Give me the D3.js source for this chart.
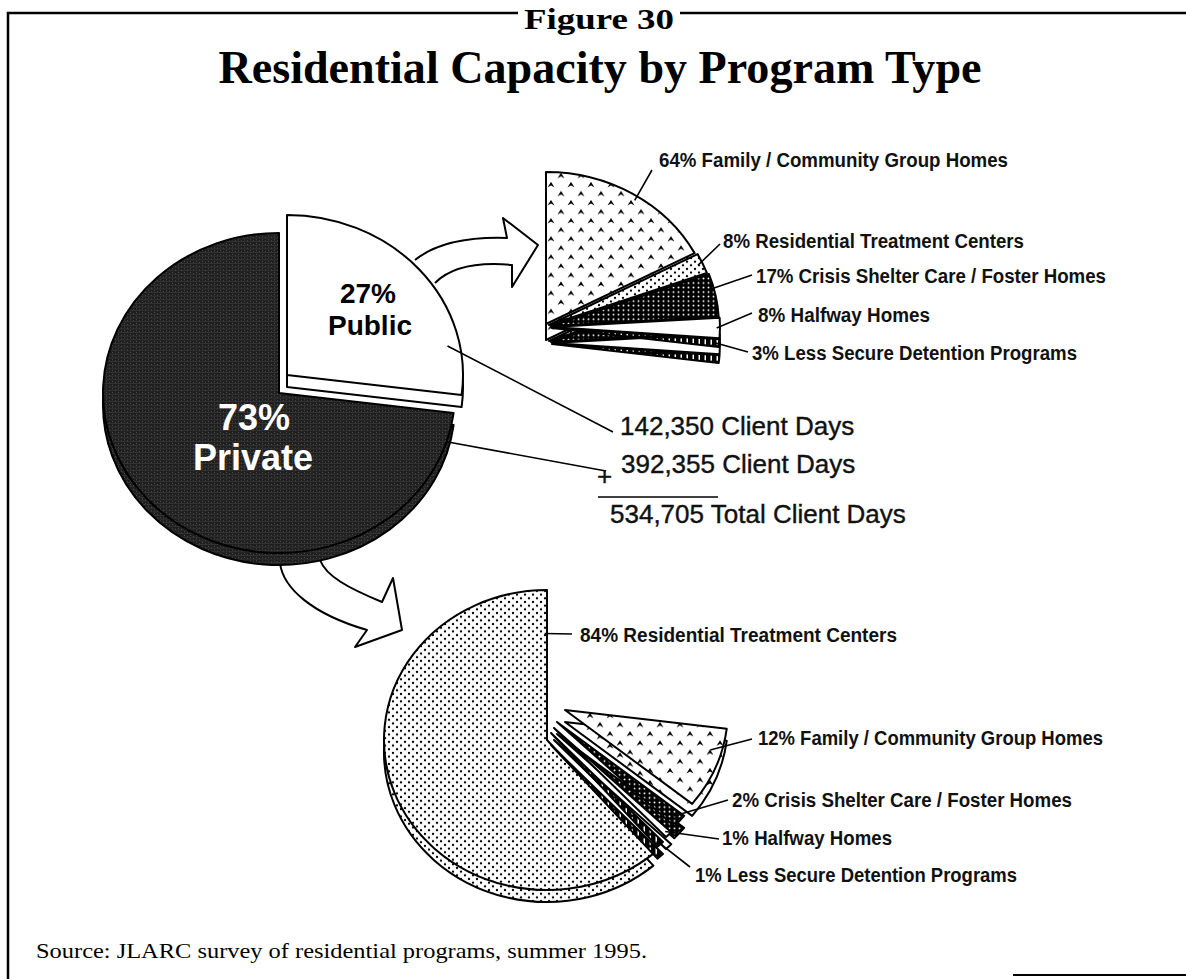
<!DOCTYPE html>
<html lang="en">
<head>
<meta charset="UTF-8">
<title>Residential Capacity by Program Type</title>
<style>
    body { margin: 0; background: #fff; }
    .serif { font-family: "Liberation Serif", "Times New Roman", serif; }
    .sans { font-family: "Liberation Sans", Arial, sans-serif; }
    .label { font-size: 20px; fill: #111; font-weight: bold; }
    .leader { stroke: #000; stroke-width: 1.6px; fill: none; }
    .edge { stroke: #000; stroke-width: 2px; vector-effect: non-scaling-stroke; stroke-linejoin: round; }
    .frame { stroke: #000; fill: none; }
</style>
<script src="https://d3js.org/d3.v7.min.js"></script>
</head>
<body>
<svg id="chart"></svg>
<script>

    // ---- data ----
    const sectors = ["Public", "Private"];
    const sectorShare = [27, 73];
    const clientDays = [142350, 392355];

    const publicPrograms = ["Family / Community Group Homes", "Residential Treatment Centers",
        "Crisis Shelter Care / Foster Homes", "Halfway Homes", "Less Secure Detention Programs"];
    const publicShare = [64, 8, 17, 8, 3];

    const privatePrograms = ["Family / Community Group Homes", "Crisis Shelter Care / Foster Homes",
        "Halfway Homes", "Less Secure Detention Programs", "Residential Treatment Centers"];
    const privateShare = [12, 2, 1, 1, 84];

    // ---- layout ----
    const width = 1186, height = 979;
    const mainPie = {cx: 279, cy: 393, rx: 176, ry: 160, depth: 12};
    const topPie = {cx: 546, cy: 327, rx: 168, ry: 152, depth: 16};
    const botPie = {cx: 547, cy: 740, rx: 163, ry: 150, depth: 12};

    const mainOffset = [[8, -18], [0, 0]];
    const topOffset = [[0, -3], [3, -2], [5, -1], [6, 0], [6, 1]];
    const botOffset = [[18, -30], [10, -18], [7, -12], [4, -7], [0, 0]];

    // label anchor [x, baseline, width], leader end shift, anchor inside slice [t, f]
    const topLabelPos = [[659, 167, 349], [723, 248, 301], [756, 283, 350], [758, 322, 172], [752, 360, 325]];
    const topLeadEnd = [[-7, 3], [-3, -4], [-4, -8], [-6, -9], [-4, -8]];
    const topAnchor = [[0.53, 0.97], [0.5, 0.97], [0.35, 0.97], [0.5, 0.98], [0.5, 0.98]];

    const botLabelPos = [[758, 745, 345], [732, 807, 340], [722, 845, 170], [695, 882, 322], [580, 642, 317]];
    const botLeadEnd = [[-6, -6], [-4, -7], [-3, -6], [-5, -15], [-8, -8]];
    const botAnchor = [[0.3, 0.93], [0.5, 0.95], [0.5, 0.97], [0.5, 0.97], [0.995, 0.71]];

    const programFill = {
        "Family / Community Group Homes": "url(#patFamily)",
        "Residential Treatment Centers": "url(#patDots)",
        "Crisis Shelter Care / Foster Homes": "url(#patCrisis)",
        "Halfway Homes": "#fff",
        "Less Secure Detention Programs": "url(#patStripes)"
    };
    const sectorFill = ["#fff", "url(#patPrivate)"];

    const svg = d3.select("#chart").attr("width", width).attr("height", height);
    const defs = svg.append("defs");

    // hatch patterns like the photocopied original
    const pFam = defs.append("pattern").attr("id", "patFamily").attr("patternUnits", "userSpaceOnUse")
        .attr("width", 20).attr("height", 20);
    pFam.append("rect").attr("width", 20).attr("height", 20).attr("fill", "#fff");
    pFam.append("path").attr("d", "M1.5,9 L5,3 L8.5,9 L5,6.8 Z M11.5,19 L15,13 L18.5,19 L15,16.8 Z").attr("fill", "#000");

    const pDots = defs.append("pattern").attr("id", "patDots").attr("patternUnits", "userSpaceOnUse")
        .attr("width", 8).attr("height", 8);
    pDots.append("rect").attr("width", 8).attr("height", 8).attr("fill", "#fff");
    pDots.append("circle").attr("cx", 2).attr("cy", 2).attr("r", 1.2).attr("fill", "#000");
    pDots.append("circle").attr("cx", 6).attr("cy", 6).attr("r", 1.2).attr("fill", "#000");

    const pCrisis = defs.append("pattern").attr("id", "patCrisis").attr("patternUnits", "userSpaceOnUse")
        .attr("width", 5).attr("height", 5);
    pCrisis.append("rect").attr("width", 5).attr("height", 5).attr("fill", "#000");
    pCrisis.append("circle").attr("cx", 2.5).attr("cy", 2.5).attr("r", 1).attr("fill", "#fff");

    const pStripes = defs.append("pattern").attr("id", "patStripes").attr("patternUnits", "userSpaceOnUse")
        .attr("width", 6).attr("height", 10);
    pStripes.append("rect").attr("width", 6).attr("height", 10).attr("fill", "#000");
    pStripes.append("rect").attr("x", 2.5).attr("y", 1.5).attr("width", 1.5).attr("height", 7).attr("fill", "#fff");

    const pPriv = defs.append("pattern").attr("id", "patPrivate").attr("patternUnits", "userSpaceOnUse")
        .attr("width", 6).attr("height", 4);
    pPriv.append("rect").attr("width", 6).attr("height", 4).attr("fill", "#1e1e1e");
    pPriv.append("rect").attr("y", 1).attr("width", 6).attr("height", 1).attr("fill", "#343434");
    pPriv.append("rect").attr("x", 1).attr("y", 3).attr("width", 1).attr("height", 1).attr("fill", "#555");
    pPriv.append("rect").attr("x", 4).attr("y", 0).attr("width", 1).attr("height", 1).attr("fill", "#4a4a4a");

    // ---- frame and titles ----
    svg.append("path").attr("class", "frame").attr("stroke-width", 2.5)
        .attr("d", `M8,${height} V13 H518 M680,13 H${width}`);
    svg.append("path").attr("class", "frame").attr("stroke-width", 2)
        .attr("d", `M1013,975 H${width}`);

    svg.append("text").attr("class", "serif").attr("x", 599).attr("y", 29)
        .attr("text-anchor", "middle").attr("font-size", 30).attr("font-weight", "bold")
        .attr("textLength", 150).attr("lengthAdjust", "spacingAndGlyphs")
        .text("Figure 30");
    svg.append("text").attr("class", "serif").attr("x", 600).attr("y", 83)
        .attr("text-anchor", "middle").attr("font-size", 46).attr("font-weight", "bold")
        .attr("textLength", 763).attr("lengthAdjust", "spacingAndGlyphs")
        .text("Residential Capacity by Program Type");
    svg.append("text").attr("class", "serif").attr("x", 36).attr("y", 958)
        .attr("font-size", 21).attr("textLength", 611).attr("lengthAdjust", "spacingAndGlyphs")
        .text("Source:  JLARC survey of residential programs, summer 1995.");

    // ---- arrows (drawn first so pie rims sit on top of their bases) ----
    svg.append("path").attr("class", "edge").attr("fill", "#fff")
        .attr("d", "M415,260 Q445,236 507,238 L503,218 L538,245 L512,287 L512,265 Q458,260 435,283");
    svg.append("path").attr("class", "edge").attr("fill", "#fff")
        .attr("d", "M280,563 C283,588 312,614 367,630 L355,647 L402,630 L393,578 L382,602 C348,588 326,576 320,560");

    // ---- 3D pie helper ----
    function drawPie(spec, shares, fills, offsets, a0, a1, order) {
        const pie = d3.pie().sort(null).value(d => d).startAngle(a0).endAngle(a1);
        const arcs = pie(shares);
        const arc = d3.arc().innerRadius(0).outerRadius(spec.rx);
        const tilt = spec.ry / spec.rx;
        const g = svg.append("g").attr("transform", `translate(${spec.cx},${spec.cy})`);
        order.forEach(i => {
            const s = g.append("g").attr("transform", `translate(${offsets[i][0]},${offsets[i][1]})`);
            s.append("path").attr("class", "edge").attr("fill", fills[i]).attr("d", arc(arcs[i]))
                .attr("transform", `translate(0,${spec.depth}) scale(1,${tilt})`);
            s.append("path").attr("class", "edge").attr("fill", fills[i]).attr("d", arc(arcs[i]))
                .attr("transform", `scale(1,${tilt})`);
        });
        return arcs;
    }

    function anchorPoint(spec, d, off, t, f) {
        const a = d.startAngle + t * (d.endAngle - d.startAngle);
        return [spec.cx + off[0] + f * spec.rx * Math.sin(a), spec.cy + off[1] - f * spec.ry * Math.cos(a)];
    }

    const mainArcs = drawPie(mainPie, sectorShare, sectorFill, mainOffset, 0, 2 * Math.PI, [1, 0]);
    const pubArc = mainArcs[0], privArc = mainArcs[1];

    const topArcs = drawPie(topPie, publicShare, publicPrograms.map(p => programFill[p]), topOffset,
        pubArc.startAngle, pubArc.endAngle, [0, 1, 2, 3, 4]);
    const botArcs = drawPie(botPie, privateShare, privatePrograms.map(p => programFill[p]), botOffset,
        privArc.startAngle, privArc.endAngle, [4, 0, 1, 2, 3]);

    // ---- sector labels ----
    svg.append("text").attr("class", "sans").attr("x", 368).attr("y", 303).attr("text-anchor", "middle")
        .attr("font-size", 28).attr("font-weight", "bold").text(`${sectorShare[0]}%`);
    svg.append("text").attr("class", "sans").attr("x", 370).attr("y", 335).attr("text-anchor", "middle")
        .attr("font-size", 28).attr("font-weight", "bold").text(sectors[0]);
    svg.append("text").attr("class", "sans").attr("x", 254).attr("y", 430).attr("text-anchor", "middle")
        .attr("font-size", 36).attr("font-weight", "bold").attr("fill", "#fff").text(`${sectorShare[1]}%`);
    svg.append("text").attr("class", "sans").attr("x", 253).attr("y", 470).attr("text-anchor", "middle")
        .attr("font-size", 36).attr("font-weight", "bold").attr("fill", "#fff").text(sectors[1]);

    // ---- program labels with leaders ----
    function labelPie(spec, arcs, names, shares, offsets, pos, leadEnd, anchors) {
        arcs.forEach((d, i) => {
            const p = anchorPoint(spec, d, offsets[i], anchors[i][0], anchors[i][1]);
            const e = [pos[i][0] + leadEnd[i][0], pos[i][1] + leadEnd[i][1]];
            svg.append("line").attr("class", "leader")
                .attr("x1", p[0]).attr("y1", p[1]).attr("x2", e[0]).attr("y2", e[1]);
            svg.append("text").attr("class", "sans label").attr("x", pos[i][0]).attr("y", pos[i][1])
                .attr("textLength", pos[i][2]).attr("lengthAdjust", "spacingAndGlyphs")
                .text(`${shares[i]}% ${names[i]}`);
        });
    }
    labelPie(topPie, topArcs, publicPrograms, publicShare, topOffset, topLabelPos, topLeadEnd, topAnchor);
    labelPie(botPie, botArcs, privatePrograms, privateShare, botOffset, botLabelPos, botLeadEnd, botAnchor);

    // ---- client day sums ----
    const fmt = d3.format(",");
    const pubPt = anchorPoint(mainPie, pubArc, mainOffset[0], 0.81, 0.93);
    const privPt = anchorPoint(mainPie, privArc, mainOffset[1], 0.04, 1.0);
    svg.append("line").attr("class", "leader").attr("x1", pubPt[0]).attr("y1", pubPt[1]).attr("x2", 613).attr("y2", 432);
    svg.append("line").attr("class", "leader").attr("x1", privPt[0]).attr("y1", privPt[1]).attr("x2", 606).attr("y2", 471);

    const sums = svg.append("g").attr("class", "sans").attr("font-size", 26).attr("fill", "#111")
        .attr("stroke", "#111").attr("stroke-width", 0.4);
    sums.append("text").attr("x", 620).attr("y", 435).text(`${fmt(clientDays[0])} Client Days`);
    sums.append("text").attr("x", 597).attr("y", 485).text("+");
    sums.append("text").attr("x", 621).attr("y", 473).text(`${fmt(clientDays[1])} Client Days`);
    svg.append("line").attr("class", "leader").attr("x1", 598).attr("y1", 497).attr("x2", 718).attr("y2", 497);
    sums.append("text").attr("x", 610).attr("y", 523).text(`${fmt(d3.sum(clientDays))} Total Client Days`);

</script>
</body>
</html>
